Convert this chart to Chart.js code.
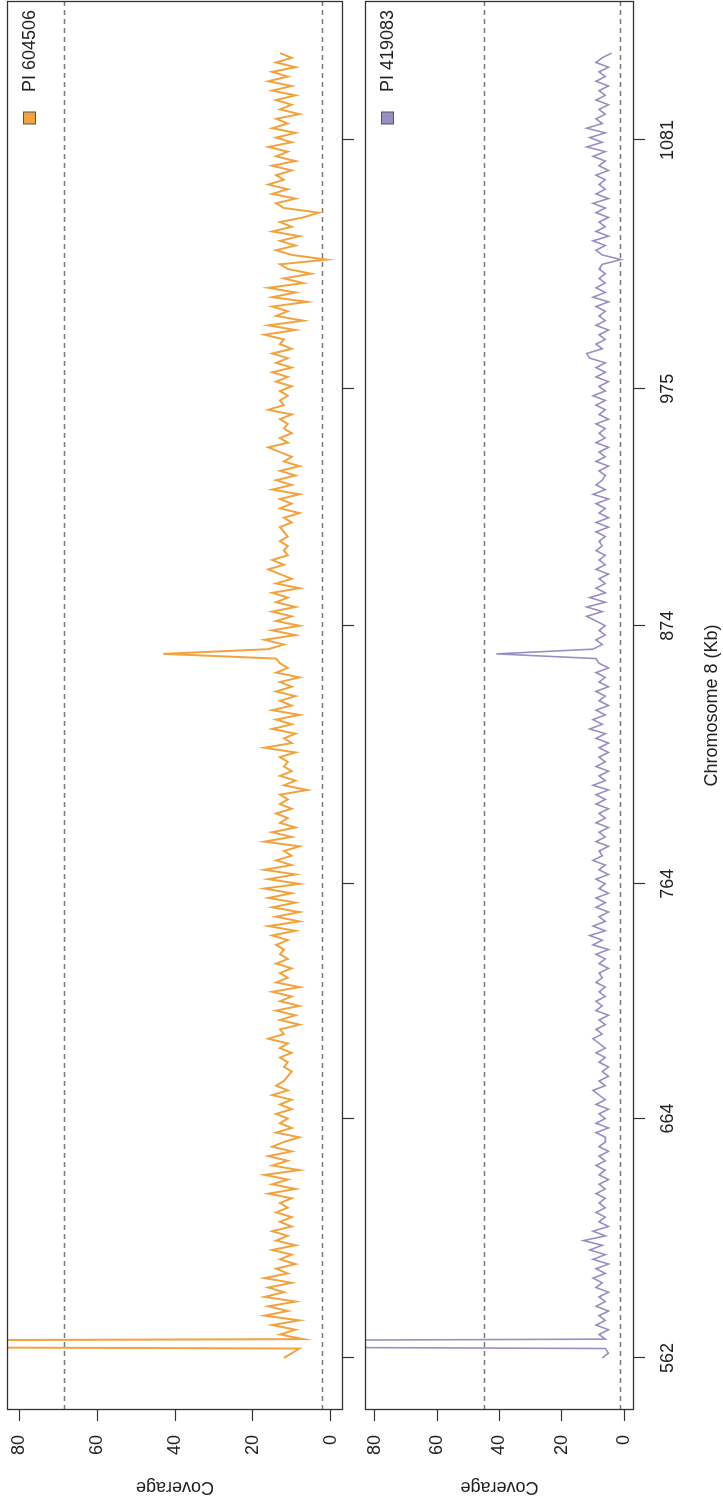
<!DOCTYPE html>
<html>
<head>
<meta charset="utf-8">
<title>Coverage - Chromosome 8</title>
<script src="https://cdn.jsdelivr.net/npm/chart.js@4.4.1/dist/chart.umd.min.js"></script>
<style>
  html, body { margin: 0; padding: 0; background: #fff; }
  body { width: 723px; height: 1506px; overflow: hidden; position: relative; }
  /* the whole figure is drawn landscape and turned a quarter turn */
  #plot { position: absolute; left: 0; top: 0; width: 1506px; height: 723px;
          transform-origin: 0 0; transform: translate(0, 1506px) rotate(-90deg); }
  #plot canvas { position: absolute; left: 0; }
</style>
</head>
<body>
<div id="plot">
  <canvas id="panelA" width="1506" height="362" style="top:0"></canvas>
  <canvas id="panelB" width="1506" height="361" style="top:362px"></canvas>
</div>
<script>
// bins along chromosome 8 (Kb)
const binStartKb = 562;
const binSizeKb = 2;
const kbTicks = [562, 664, 764, 874, 975, 1081];
const coverageTicks = [0, 20, 40, 60, 80];

const coveragePI604506 = [
    12, 10, 8, 400, 7, 13, 9, 15, 8, 17,
    11, 16, 9, 17, 12, 16, 10, 17, 11, 14,
    9, 13, 10, 15, 9, 14, 11, 15, 10, 13,
    10, 14, 11, 13, 10, 16, 9, 15, 11, 17,
    8, 15, 11, 16, 10, 15, 12,
    8, 14, 10, 13, 11, 14, 10, 13, 10, 15,
    11, 14, 12, 11, 10, 12, 11, 13, 10, 13,
    11, 16, 12, 13, 8, 13, 9, 14, 8, 13,
    10, 15, 8, 14, 11, 13, 10, 14, 11, 13,
    12, 14, 11, 15, 9, 16, 8,
    14, 8, 15, 9, 16, 10, 17, 8, 16, 9,
    17, 10, 14, 10, 12, 8, 17, 10, 15, 9,
    13, 11, 14, 10, 13, 11, 13, 6, 12, 9,
    13, 10, 12, 11, 13, 9, 17, 10, 12, 9,
    15, 10, 14, 8, 15, 10, 13,
    9, 14, 10, 13, 8, 14, 11, 13, 14, 43,
    16, 12, 17, 9, 15, 8, 14, 10, 15, 9,
    14, 11, 15, 8, 14, 10, 13, 16, 12, 15,
    11, 12, 11, 13, 11, 12, 13, 10, 12, 8,
    13, 10, 13, 8, 15, 10, 14,
    9, 13, 8, 12, 10, 13, 16, 11, 13, 10,
    12, 11, 13, 10, 16, 12, 13, 11, 13, 10,
    14, 11, 15, 10, 14, 11, 15, 10, 13, 12,
    17, 9, 16, 7, 14, 11, 15, 6, 15, 9,
    16, 7, 12, 5, 11, 13,
    1, 10, 14, 9, 13, 8, 15, 10, 13, 7,
    3, 12, 14, 9, 15, 11, 16, 12, 14, 10,
    15, 9, 14, 11, 16, 10, 14, 9, 15, 11,
    14, 8, 13, 10, 14, 9, 15, 10, 16, 11,
    15, 9, 14, 10, 13
];

const coveragePI419083 = [
    7, 5, 6, 400, 6, 8, 5, 9, 6, 8,
    5, 9, 6, 8, 5, 9, 7, 10, 6, 9,
    5, 10, 6, 11, 7, 13, 6, 10, 5, 8,
    6, 9, 6, 8, 6, 9, 6, 8, 5, 8,
    6, 9, 6, 8, 5, 8, 6,
    6, 9, 5, 9, 6, 8, 5, 9, 6, 8,
    10, 6, 8, 5, 7, 5, 8, 6, 9, 6,
    8, 10, 7, 9, 6, 8, 5, 9, 7, 9,
    6, 8, 6, 9, 7, 8, 5, 8, 6, 9,
    5, 10, 7, 11, 6, 10, 6,
    8, 5, 9, 6, 9, 5, 8, 6, 9, 5,
    8, 6, 10, 7, 8, 5, 9, 6, 8, 5,
    9, 6, 8, 5, 9, 6, 9, 5, 10, 6,
    8, 5, 9, 6, 8, 5, 8, 5, 9, 6,
    11, 7, 10, 6, 9, 5, 8,
    6, 9, 5, 8, 6, 9, 5, 8, 9, 41,
    10, 7, 9, 6, 8, 6, 9, 12, 7, 12,
    6, 11, 6, 9, 6, 8, 5, 9, 6, 8,
    6, 9, 7, 8, 6, 9, 5, 9, 5, 8,
    6, 9, 5, 10, 6, 9, 7,
    6, 8, 5, 9, 6, 8, 5, 9, 6, 8,
    6, 9, 5, 8, 6, 9, 6, 10, 6, 8,
    5, 9, 6, 9, 6, 11, 12, 7, 9, 6,
    8, 5, 9, 6, 8, 6, 9, 5, 10, 6,
    9, 6, 8, 6, 8, 7,
    1, 7, 9, 6, 10, 5, 9, 6, 8, 5,
    9, 6, 10, 5, 9, 6, 8, 6, 9, 5,
    8, 6, 10, 6, 12, 7, 11, 6, 12, 7,
    9, 6, 8, 5, 9, 6, 8, 5, 9, 6,
    8, 5, 9, 7, 4
];

// dashed reference levels for each sample
const thresholdsPI604506 = [68.6, 2.1];
const thresholdsPI419083 = [45, 1.4];

document.addEventListener('DOMContentLoaded', function () {

    Chart.defaults.font.family = "'Liberation Sans', Arial, sans-serif";
    Chart.defaults.font.size = 18;
    Chart.defaults.color = '#222';

    // keep the chart area where it is, whatever the label sizes say
    function noPadding(s) {
        s.paddingTop = 0;
        s.paddingBottom = 0;
        s.paddingLeft = 0;
        s.paddingRight = 0;
    }

    function makePanel(canvasId, label, values, thresholds, color, lineWidth, bottomPanel) {
        const points = values.map((v, i) => ({ x: binStartKb + i * binSizeKb, y: v }));

        // frame, dashed levels and legend drawn on the chart area
        const panelDecor = {
            id: 'panelDecor',
            beforeDatasetsDraw(chart) {
                const { ctx, chartArea: a, scales: { y } } = chart;
                ctx.save();
                ctx.strokeStyle = '#7a7a7a';
                ctx.lineWidth = 1.3;
                ctx.setLineDash([5, 4]);
                thresholds.forEach(t => {
                    const py = Math.round(y.getPixelForValue(t)) + 0.5;
                    ctx.beginPath();
                    ctx.moveTo(a.left, py);
                    ctx.lineTo(a.right, py);
                    ctx.stroke();
                });
                ctx.restore();
            },
            afterDraw(chart) {
                const { ctx, chartArea: a } = chart;
                ctx.save();
                ctx.strokeStyle = '#333';
                ctx.lineWidth = 1.3;
                ctx.strokeRect(a.left + 0.5, a.top + 0.5, a.right - a.left - 1, a.bottom - a.top - 1);

                const ly = a.top + 22.5;
                const lx = a.right - 117;
                ctx.fillStyle = color;
                ctx.fillRect(lx - 6, ly - 6, 12, 12);
                ctx.strokeStyle = '#555';
                ctx.lineWidth = 1;
                ctx.strokeRect(lx - 6, ly - 6, 12, 12);
                ctx.fillStyle = '#222';
                ctx.font = "18px 'Liberation Sans', Arial, sans-serif";
                ctx.textAlign = 'left';
                ctx.textBaseline = 'middle';
                ctx.fillText(label, a.right - 91, ly + 1);
                ctx.restore();
            }
        };

        return new Chart(document.getElementById(canvasId), {
            type: 'line',
            data: {
                datasets: [{
                    label: label,
                    data: points,
                    borderColor: color,
                    borderWidth: lineWidth,
                    pointRadius: 0,
                    tension: 0,
                    fill: false,
                    clip: 0
                }]
            },
            options: {
                responsive: false,
                animation: false,
                events: [],
                layout: { padding: { top: bottomPanel ? 3 : 7, right: 1, left: 0, bottom: 0 } },
                plugins: { legend: { display: false }, tooltip: { enabled: false } },
                scales: {
                    x: {
                        type: 'linear',
                        min: 539.8,
                        max: 1140.2,
                        afterBuildTicks: s => { s.ticks = kbTicks.map(v => ({ value: v })); },
                        afterFit: s => { s.height = bottomPanel ? 89 : 19; noPadding(s); },
                        grid: { drawOnChartArea: false, tickLength: 11, tickColor: '#333', tickWidth: 1.2 },
                        border: { display: false },
                        ticks: {
                            padding: 12,
                            maxRotation: 0,
                            autoSkip: false,
                            callback: v => bottomPanel ? String(v) : ''
                        },
                        title: {
                            display: bottomPanel,
                            text: 'Chromosome 8 (Kb)',
                            padding: { top: 0, bottom: 0 }
                        }
                    },
                    y: {
                        min: -3.2,
                        max: 83.2,
                        afterBuildTicks: s => { s.ticks = coverageTicks.map(v => ({ value: v })); },
                        afterFit: s => { s.width = 96; noPadding(s); },
                        grid: { drawOnChartArea: false, tickLength: 11, tickColor: '#333', tickWidth: 1.2 },
                        border: { display: false },
                        ticks: { padding: 14 },
                        title: {
                            display: true,
                            text: 'Coverage',
                            padding: { top: 8, bottom: 0 }
                        }
                    }
                }
            },
            plugins: [panelDecor]
        });
    }

    makePanel('panelA', 'PI 604506', coveragePI604506, thresholdsPI604506, '#f1a340', 2, false);
    makePanel('panelB', 'PI 419083', coveragePI419083, thresholdsPI419083, '#998ec3', 1.6, true);
});
</script>
</body>
</html>
